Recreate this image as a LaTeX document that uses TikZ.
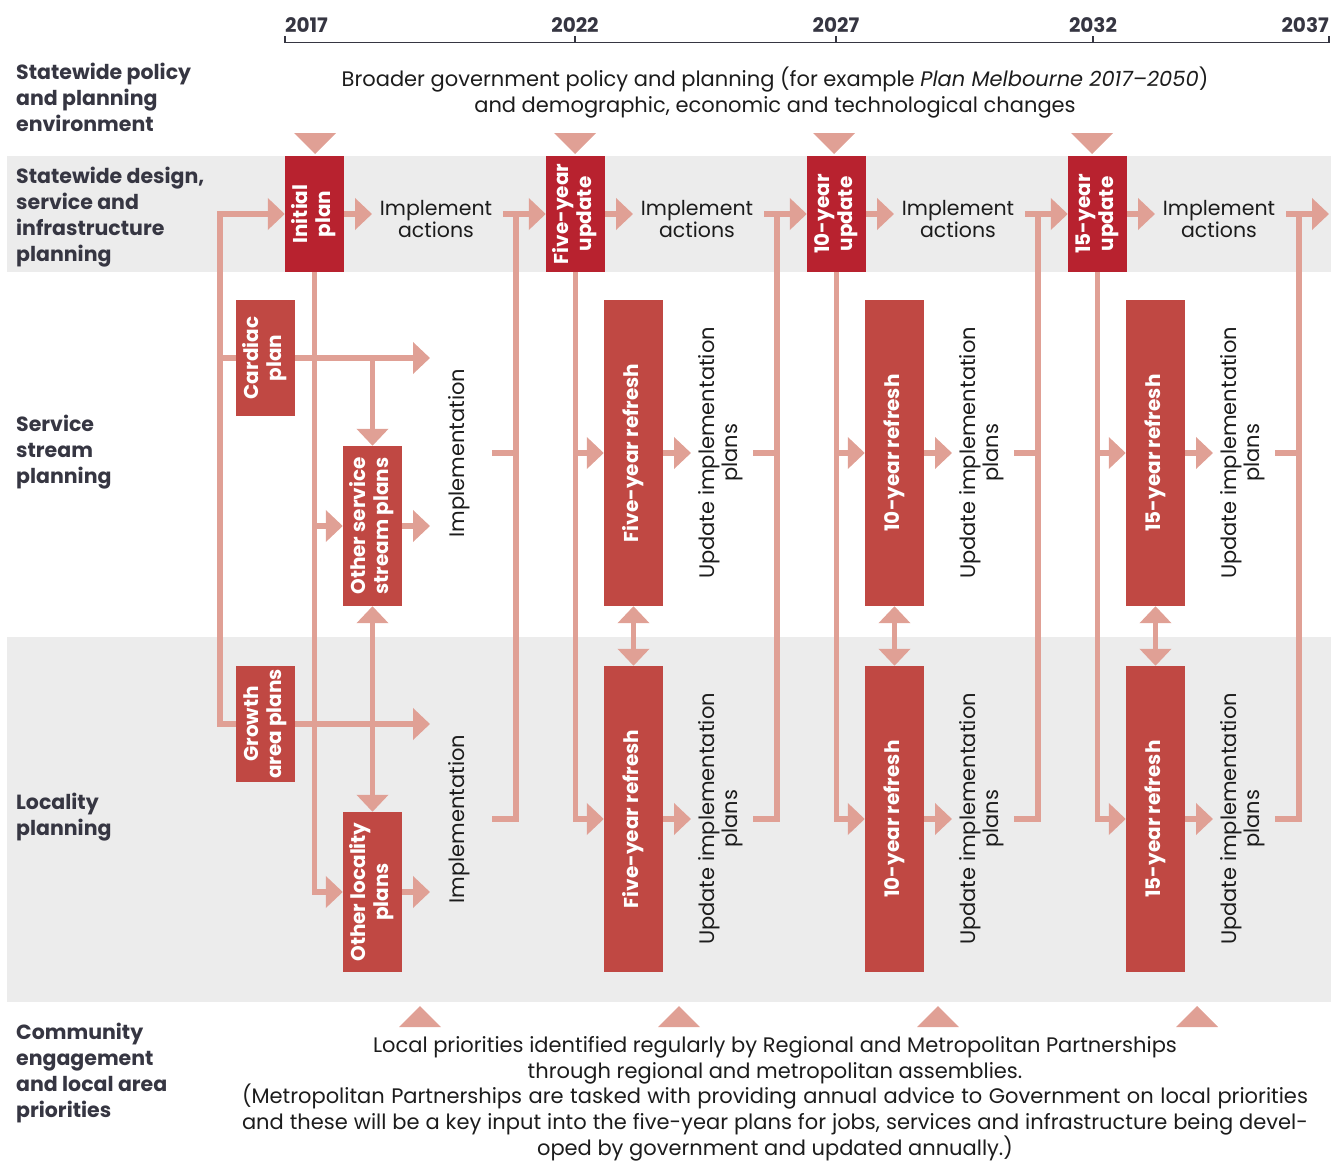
\documentclass[tikz,border=0pt]{standalone}
\usepackage{fontspec}
\setmainfont{Poppins}
\usetikzlibrary{arrows.meta}
\definecolor{dkred}{HTML}{B8222F}
\definecolor{mdred}{HTML}{C04843}
\definecolor{pinkc}{HTML}{E0A095}
\definecolor{bandc}{HTML}{ECECEC}
\definecolor{labc}{HTML}{363642}
\definecolor{txtc}{HTML}{1C1C1C}
\newcommand\rt[1]{\rotatebox{90}{\begin{tabular}{@{}c@{}}#1\end{tabular}}}
\newcommand\fsa{\fontsize{20}{23}\selectfont}
\newcommand\fsb{\fontsize{21}{23}\selectfont}
\begin{document}
\begin{tikzpicture}[x=1pt, y=-1pt,
 conn/.style={draw=pinkc, line width=5.5pt},
 arr/.style={conn, -{Triangle[width=31pt,length=17pt]}},
 darr/.style={conn, {Triangle[width=31pt,length=17pt]}-{Triangle[width=31pt,length=17pt]}},
 topbox/.style={fill=dkred, text=white, font=\bfseries\fsa, inner sep=0pt, minimum width=59pt, minimum height=116pt},
 plbox/.style={fill=mdred, text=white, font=\bfseries\fsa, inner sep=0pt, minimum width=59pt},
 lbl/.style={anchor=north west, align=left, inner sep=0pt, text=labc, font=\bfseries\fontsize{20.5}{26}\selectfont},
 body/.style={text=txtc, font=\fontsize{21}{26}\selectfont, align=center, inner sep=0pt},
 rtxt/.style={text=txtc, font=\fsb, inner sep=0pt},
 year/.style={text=labc, font=\bfseries\fontsize{20}{22}\selectfont, inner sep=0pt, anchor=base}
]
\useasboundingbox (0,0) rectangle (1331,1162);
% bands
\fill[bandc] (7,156) rectangle (1331,272);
\fill[bandc] (7,637) rectangle (1331,1002);
% axis
\draw[labc, line width=1.3pt] (285,36) -- (285,42.5) -- (1329,42.5) -- (1329,36);
\foreach \x in {575,836,1093} \draw[labc, line width=1.3pt] (\x,42.5) -- (\x,36);
\node[year, anchor=base west] (y17) at (285,32) {2017};
\node[year] (y22) at (575,32) {2022};
\node[year] (y27) at (836,32) {2027};
\node[year] (y32) at (1093,32) {2032};
\node[year, anchor=base east] (y37) at (1329,32) {2037};
% triangles
\foreach \x in {315,575,834,1092} \fill[pinkc] (\x-21,133) -- (\x+21,133) -- (\x,154) -- cycle;
\foreach \x in {420,679,938,1197} \fill[pinkc] (\x-21,1027) -- (\x+21,1027) -- (\x,1006) -- cycle;
% left labels
\node[lbl] (l1) at (16,63) {Statewide policy\\and planning\\environment};
\node[lbl] (l2) at (16,167) {Statewide design,\\service and\\infrastructure\\planning};
\node[lbl] (l3) at (16,415) {Service\\stream\\planning};
\node[lbl] (l4) at (16,793) {Locality\\planning};
\node[lbl] (l5) at (16,1023) {Community\\engagement\\and local area\\priorities};
% texts
\node[body, anchor=north] (pol) at (775,67) {Broader government policy and planning (for example \textit{Plan Melbourne 2017–2050})\\and demographic, economic and technological changes};
\node[body, anchor=north, font=\fontsize{21}{25.8}\selectfont] (loc) at (775,1036) {Local priorities identified regularly by Regional and Metropolitan Partnerships\\through regional and metropolitan assemblies.\\\hbox to 1066pt{(Metropolitan Partnerships are tasked with providing annual advice to Government on local priorities}\\\hbox to 1066pt{and these will be a key input into the five-year plans for jobs, services and infrastructure being devel-}\\oped by government and updated annually.)};
% top boxes
\node[topbox] (tb1) at (314.5,214) {\rt{Initial\\plan}};
\node[topbox] (tb2) at (575.5,214) {\rt{Five-year\\update}};
\node[topbox] (tb3) at (836.5,214) {\rt{10-year\\update}};
\node[topbox] (tb4) at (1097.5,214) {\rt{15-year\\update}};
\foreach \x/\n in {436/1,697/2,958/3,1219/4}
  \node[body, font=\fontsize{20.5}{22}\selectfont, anchor=north] (ia\n) at (\x,200) {Implement\\actions};
% column 1 plans
\node[plbox, minimum height=116pt] (cd) at (265.5,358) {\rt{Cardiac\\plan}};
\node[plbox, minimum height=160pt] (os) at (372.5,526) {\rt{Other service\\stream plans}};
\node[plbox, minimum height=116pt] (gr) at (265.5,724) {\rt{Growth\\area plans}};
\node[plbox, minimum height=160pt] (ol) at (372.5,892) {\rt{Other locality\\plans}};
\node[rtxt] (im1) at (460,453) {\rt{Implementation}};
\node[rtxt] (im2) at (460,819) {\rt{Implementation}};
% refresh boxes
\foreach \x/\n/\t in {633.5/2/Five-year refresh, 894.5/3/10-year refresh, 1155.5/4/15-year refresh} {
  \node[plbox, minimum height=306pt] (rs\n) at (\x,453) {\rt{\t}};
  \node[plbox, minimum height=306pt] (rl\n) at (\x,819) {\rt{\t}};
}
\foreach \x/\n in {721/2,982/3,1243/4} {
  \node[rtxt] (us\n) at (\x,453) {\rt{Update implementation\\plans}};
  \node[rtxt] (ul\n) at (\x,819) {\rt{Update implementation\\plans}};
}
% coordinates
\coordinate (bl) at (220,0);
\coordinate (t1) at (430,0);
\coordinate (rowS) at (0,453);
\coordinate (rowL) at (0,819);
\coordinate (endtip) at (1329,214);
\foreach \k in {1,...,4} {
  \pgfmathsetmacro\c{261*(\k-1)}
  \coordinate (ta\k) at (372+\c,214);
  \coordinate (a\k) at (503+\c,214);
  \coordinate (b\k) at (516+\c,0);
  \coordinate (s\k) at (492+\c,0);
  \coordinate (rt\k) at (691+\c-261,0);
}
% column 1 connectors
\draw[arr] (gr.west) -- (bl |- gr.west) -- (bl |- tb1.west) -- (tb1.west);
\draw[conn] (bl |- cd.west) -- (cd.west);
\draw[arr] (cd.east) -- (t1 |- cd.east);
\draw[arr] (gr.east) -- (t1 |- gr.east);
\draw[arr] (os.east) -- (t1 |- os.east);
\draw[arr] (ol.east) -- (t1 |- ol.east);
\draw[arr] (os.north |- cd.east) -- (os.north);
\draw[darr] (os.south) -- (ol.north);
\draw[arr] (tb1.south) -- (tb1.south |- ol.west) -- (ol.west);
\draw[arr] (tb1.south |- os.west) -- (os.west);
% top row and buses
\foreach \k/\nx in {1/tb2.west,2/tb3.west,3/tb4.west,4/endtip} {
  \draw[arr] (tb\k.east) -- (ta\k);
  \draw[arr] (a\k) -- (\nx);
  \draw[conn] (s\k |- rowS) -- (b\k |- rowS);
  \draw[conn] (s\k |- rowL) -- (b\k |- rowL) -- (b\k |- tb1.east);
}
% columns 2-4
\foreach \k in {2,3,4} {
  \draw[arr] (tb\k.south) -- (tb\k.south |- rl\k.west) -- (rl\k.west);
  \draw[arr] (tb\k.south |- rs\k.west) -- (rs\k.west);
  \draw[darr] (rs\k.south) -- (rl\k.north);
  \draw[arr] (rs\k.east) -- (rt\k |- rs\k.east);
  \draw[arr] (rl\k.east) -- (rt\k |- rl\k.east);
}
\end{tikzpicture}
\end{document}
